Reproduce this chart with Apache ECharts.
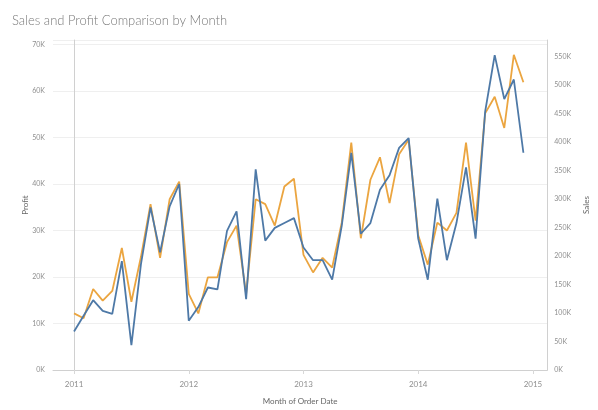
<!DOCTYPE html>
<html>
<head>
<meta charset="utf-8">
<script src="https://cdn.jsdelivr.net/npm/echarts@6/dist/echarts.min.js"></script>
<style>html,body{margin:0;padding:0;background:#fff;}#c{width:598px;height:410px;}</style>
</head>
<body>
<div id="c"></div>
<script>
const months = [
  '2011-01','2011-02','2011-03','2011-04','2011-05','2011-06','2011-07','2011-08','2011-09','2011-10','2011-11','2011-12',
  '2012-01','2012-02','2012-03','2012-04','2012-05','2012-06','2012-07','2012-08','2012-09','2012-10','2012-11','2012-12',
  '2013-01','2013-02','2013-03','2013-04','2013-05','2013-06','2013-07','2013-08','2013-09','2013-10','2013-11','2013-12',
  '2014-01','2014-02','2014-03','2014-04','2014-05','2014-06','2014-07','2014-08','2014-09','2014-10','2014-11','2014-12'
];
const yearTickPositions = [0, 12, 24, 36, 48];
const yearLabels = ['2011', '2012', '2013', '2014', '2015'];
const profitTicks = [0, 10000, 20000, 30000, 40000, 50000, 60000, 70000];
const salesTicks = [0, 50000, 100000, 150000, 200000, 250000, 300000, 350000, 400000, 450000, 500000, 550000];

const profit = [
  8300, 11660, 15020, 12710, 12080, 23420, 5360, 22790, 34980, 25320, 35190, 40020,
  10610, 13550, 17750, 17330, 29940, 34140, 15230, 43170, 27840, 30570, 31620, 32670,
  26370, 23630, 23630, 19430, 30990, 46740, 29310, 31620, 38760, 41910, 47790, 49890,
  28260, 19430, 36870, 23630, 31620, 43590, 28260, 55570, 67750, 58300, 62500, 46740
];
const sales = [
  99300, 90700, 142100, 121600, 138700, 214000, 119800, 198600, 291000, 196900, 299600, 330400,
  133500, 99300, 162600, 162600, 224300, 253400, 133500, 299600, 291000, 253400, 321900, 335600,
  202000, 171200, 196900, 179800, 258500, 398900, 231100, 333800, 373200, 292800, 378400, 404000,
  236300, 184900, 258500, 244800, 275600, 398900, 261900, 450300, 479400, 424600, 553000, 505000
];

const chart = echarts.init(document.getElementById('c'), null, {renderer: 'canvas'});
const font = 'Lato, "Open Sans", sans-serif';
const labelColor = '#8f8f8f';
const fmtK = v => (v / 1000) + 'K';

chart.setOption({
  animation: false,
  backgroundColor: '#ffffff',
  title: {
    text: 'Sales and Profit Comparison by Month',
    left: 7, top: 9,
    textStyle: {fontFamily: font, fontSize: 13, fontWeight: 300, color: '#7a7a7a'}
  },
  grid: {left: 53, right: 28, top: 40, bottom: 32, containLabel: false},
  xAxis: {
    type: 'value',
    min: -2.2, max: 49.5,
    name: 'Month of Order Date',
    nameLocation: 'middle', nameGap: 27,
    nameTextStyle: {fontFamily: font, fontSize: 8, color: '#666'},
    axisLine: {show: true, lineStyle: {color: '#d0d0d0', width: 1}},
    axisTick: {show: true, length: 4, lineStyle: {color: '#d8d8d8'}, customValues: yearTickPositions},
    axisLabel: {
      fontFamily: font, fontSize: 8, color: labelColor, margin: 10,
      customValues: yearTickPositions,
      formatter: v => yearLabels[yearTickPositions.indexOf(v)] || ''
    },
    splitLine: {show: false}
  },
  yAxis: [
    {
      type: 'value', min: 0, max: 71000,
      name: 'Profit', nameLocation: 'middle', nameGap: 24, nameMoveOverlap: false,
      nameTextStyle: {fontFamily: font, fontSize: 8, color: '#666'},
      axisLine: {show: true, lineStyle: {color: '#d0d0d0'}},
      axisTick: {show: false},
      axisLabel: {
        fontFamily: font, fontSize: 7, color: labelColor, margin: 8,
        customValues: profitTicks, formatter: fmtK
      },
      splitLine: {show: true, lineStyle: {color: '#efefef', width: 1}}
    },
    {
      type: 'value', min: 0, max: 579000,
      name: 'Sales', nameLocation: 'middle', nameGap: 27,
      nameTextStyle: {fontFamily: font, fontSize: 8, color: '#666'},
      axisLine: {show: true, lineStyle: {color: '#d0d0d0'}},
      axisTick: {show: false},
      axisLabel: {
        fontFamily: font, fontSize: 7, color: labelColor, margin: 7,
        customValues: salesTicks, formatter: fmtK
      },
      splitLine: {show: false}
    }
  ],
  series: [
    {
      name: 'Profit', type: 'line', yAxisIndex: 0,
      data: months.map((m, i) => [i, profit[i]]),
      symbol: 'none', lineStyle: {color: '#4e79a7', width: 1.8},
      itemStyle: {color: '#4e79a7'}, z: 3
    },
    {
      name: 'Sales', type: 'line', yAxisIndex: 1,
      data: months.map((m, i) => [i, sales[i]]),
      symbol: 'none', lineStyle: {color: '#eba540', width: 1.8},
      itemStyle: {color: '#eba540'}, z: 2
    }
  ]
});
</script>
</body>
</html>
